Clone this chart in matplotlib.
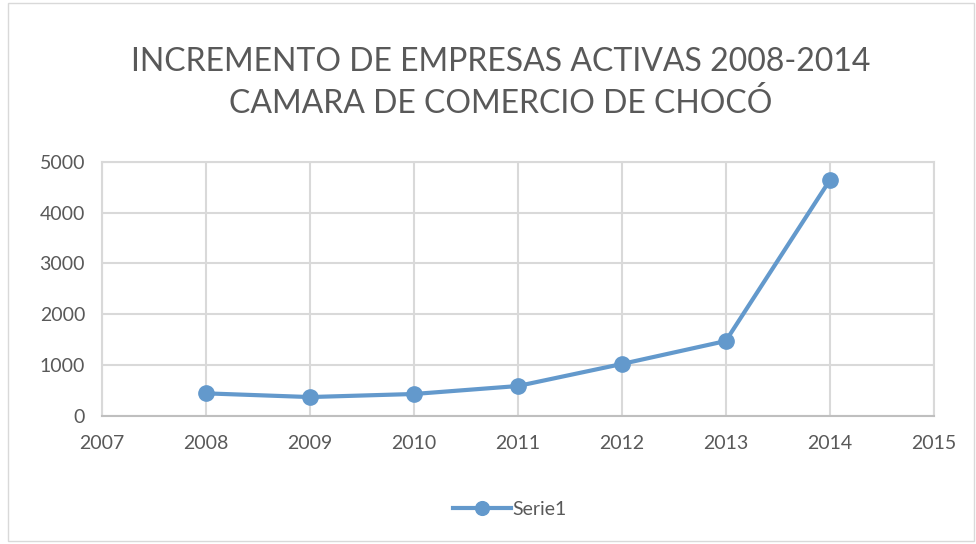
import numpy as np
import matplotlib.pyplot as plt
from matplotlib.patches import Rectangle

years = [2008, 2009, 2010, 2011, 2012, 2013, 2014]
empresas = [441, 368, 428, 585, 1019, 1472, 4639]
x_ticks = [2007, 2008, 2009, 2010, 2011, 2012, 2013, 2014, 2015]
y_ticks = [0, 1000, 2000, 3000, 4000, 5000]

plt.rcParams['font.family'] = ['Lato', 'DejaVu Sans']
line_col = '#6399cc'
grid_col = '#d9d9d9'
txt_col = '#595959'

fig = plt.figure(figsize=(9.76, 5.44), dpi=100)
fig.patches.append(Rectangle((0.008, 0.005), 0.99, 0.99, transform=fig.transFigure,
                             fill=False, edgecolor='#d9d9d9', linewidth=1))
ax = fig.add_axes([0.1042, 0.2358, 0.8525, 0.4664])

ax.plot(years, empresas, color=line_col, linewidth=3, marker='o', markersize=11,
        label='Serie1', zorder=3)

ax.set_xlim(2007, 2015)
ax.set_ylim(0, 5000)
ax.set_xticks(x_ticks)
ax.set_yticks(y_ticks)
ax.grid(True, color=grid_col, linewidth=1.5)
for s in ax.spines.values():
    s.set_color(grid_col)
    s.set_linewidth(1.5)
ax.spines['bottom'].set_color('#bfbfbf')
ax.tick_params(length=0, labelsize=14, labelcolor=txt_col)
ax.tick_params(axis='x', pad=14)
ax.tick_params(axis='y', pad=12)

fig.text(0.513, 0.847, 'INCREMENTO DE EMPRESAS ACTIVAS 2008-2014\nCAMARA DE COMERCIO DE CHOCÓ',
         ha='center', va='center', fontsize=23, color=txt_col,
         linespacing=1.45)

ax.legend(loc='center', bbox_to_anchor=(0.49, -0.37), frameon=False, fontsize=14,
          labelcolor=txt_col, handlelength=3.0, handletextpad=0.05, markerscale=0.9)

fig.savefig('out.png', dpi=100)
